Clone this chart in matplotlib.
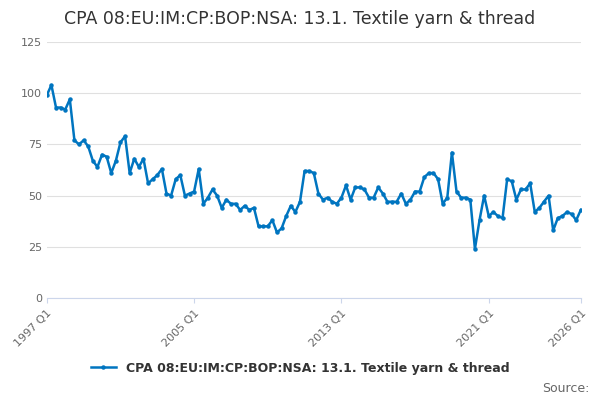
import matplotlib.pyplot as plt
import numpy as np

title = "CPA 08:EU:IM:CP:BOP:NSA: 13.1. Textile yarn & thread"
values = [99, 104, 93, 93, 92, 97, 77, 75, 77, 74,
          67, 64, 70, 69, 61, 67, 76, 79, 61, 68,
          64, 68, 56, 58, 60, 63, 51, 50, 58, 60,
          50, 51, 52, 63, 46, 49, 53, 50, 44, 48,
          46, 46, 43, 45, 43, 44, 35, 35, 35, 38,
          32, 34, 40, 45, 42, 47, 62, 62, 61, 51,
          48, 49, 47, 46, 49, 55, 48, 54, 54, 53,
          49, 49, 54, 51, 47, 47, 47, 51, 46, 48,
          52, 52, 59, 61, 61, 58, 46, 49, 71, 52,
          49, 49, 48, 24, 38, 50, 40, 42, 40, 39,
          58, 57, 48, 53, 53, 56, 42, 44, 47, 50,
          33, 39, 40, 42, 41, 38, 43]
tick_pos = [0, 32, 64, 96, 116]
tick_labels = ["1997 Q1", "2005 Q1", "2013 Q1", "2021 Q1", "2026 Q1"]

color = '#0075c0'
fig = plt.figure(figsize=(6, 4), dpi=100)
ax = fig.add_axes([0.078, 0.255, 0.89, 0.64])
x = np.arange(len(values))
ax.plot(x, values, color=color, lw=1.8, marker='o', ms=2.2, label=title)
ax.set_xlim(0, 116)
ax.set_ylim(0, 125)
ax.set_yticks([0, 25, 50, 75, 100, 125])
ax.set_xticks(tick_pos)
ax.set_xticklabels(tick_labels, rotation=45, ha='right', rotation_mode='anchor')
ax.grid(axis='y', color='#e0e0e0', lw=0.8)
ax.set_axisbelow(True)
for s in ['top', 'right', 'left']:
    ax.spines[s].set_visible(False)
ax.spines['bottom'].set_color('#ccd6eb')
ax.tick_params(axis='y', length=0, labelsize=8, colors='#666666')
ax.tick_params(axis='x', color='#ccd6eb', labelsize=8, labelcolor='#666666')
fig.suptitle(title, fontsize=12.5, color='#333333', y=0.975)
fig.legend(loc='lower center', bbox_to_anchor=(0.5, 0.035), frameon=False,
           prop={'size': 9, 'weight': 'bold'}, labelcolor='#333333')
fig.text(0.982, 0.02, "Source:", ha='right', fontsize=9, color='#666666')
fig.savefig('out.png')
